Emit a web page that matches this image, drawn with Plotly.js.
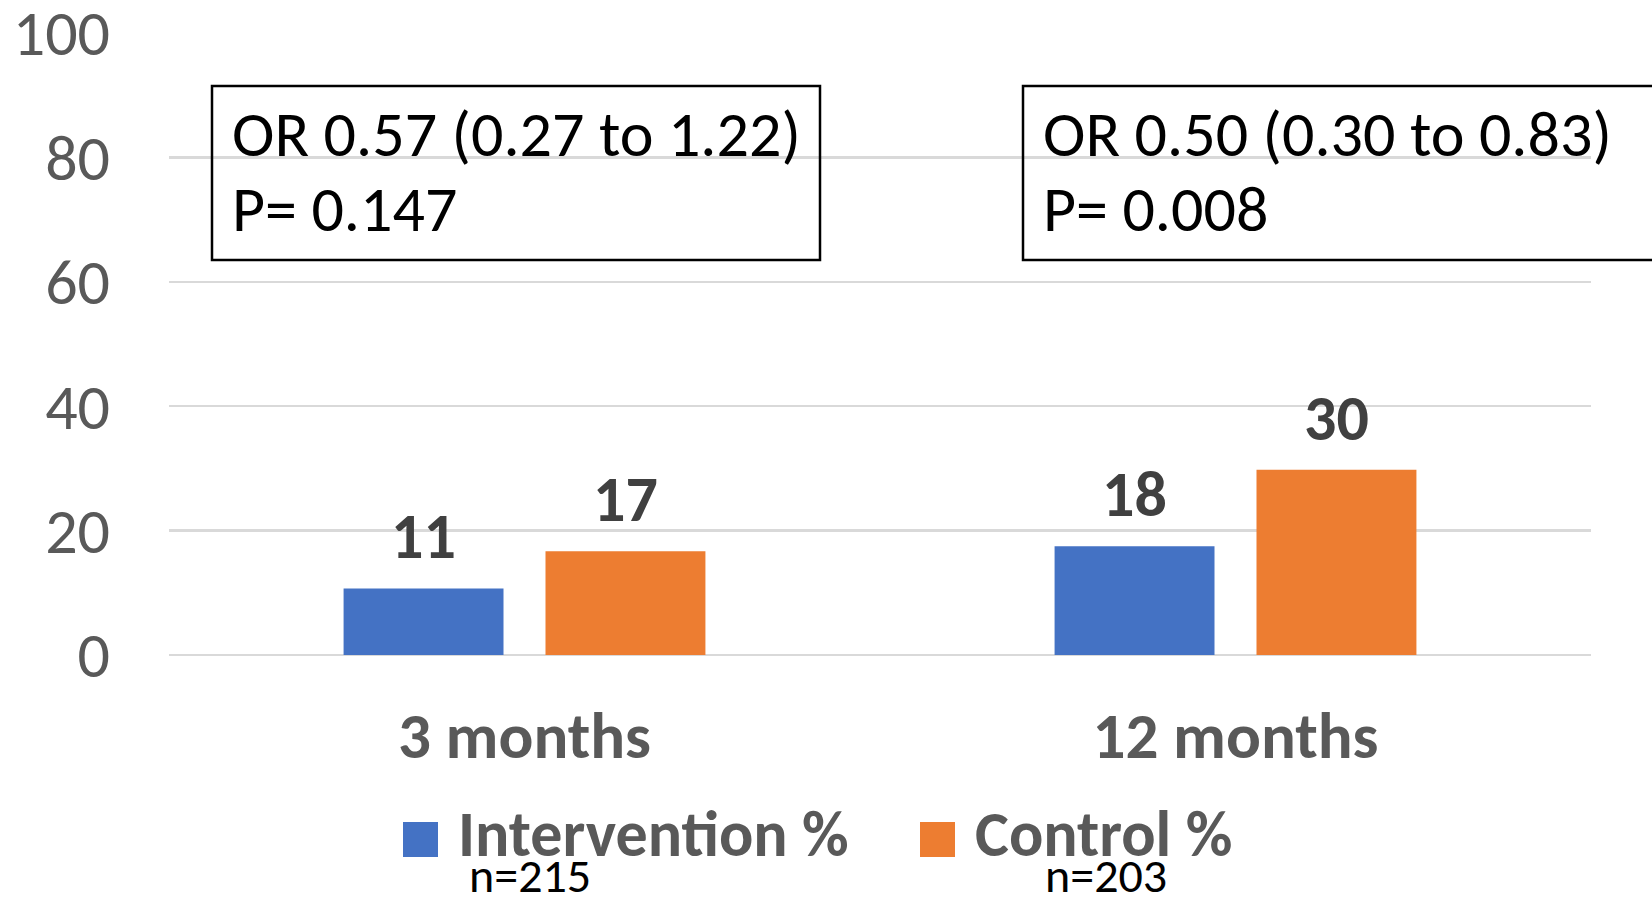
<!DOCTYPE html>
<html>
<head>
<meta charset="utf-8">
<script src="https://cdn.plot.ly/plotly-3.0.1.min.js"></script>
<style>
html,body{margin:0;padding:0;background:#fff;}
#chart{width:1652px;height:898px;}
</style>
</head>
<body>
<div id="chart"></div>
<script>
// ---- data ----
const categories = ["3 months", "12 months"];
const seriesNames = ["Intervention %", "Control %"];
const seriesN = ["n=215", "n=203"];
const interventionValues = [10.7, 17.5];
const controlValues = [16.7, 29.8];
const seriesColors = ["#4472C4", "#ED7D31"];
const oddsRatioText = ["OR 0.57 (0.27 to 1.22)", "OR 0.50 (0.30 to 0.83)"];
const pValueText = ["P= 0.147", "P= 0.008"];
const yTickValues = [0, 20, 40, 60, 80, 100];

// ---- layout geometry ----
const W = 1652, H = 898;
const M = {l: 169, r: 61, t: 33, b: 243};
const PW = W - M.l - M.r, PH = H - M.t - M.b;
const px = x => (x - M.l) / PW;          // pixel -> paper x
const py = y => (H - M.b - y) / PH;      // pixel -> paper y
const FONT = "Carlito, Calibri, Lato, 'Liberation Sans', sans-serif";

const traces = [
  {type: "bar", x: categories, y: interventionValues, name: seriesNames[0],
   marker: {color: seriesColors[0]}, hoverinfo: "none", showlegend: false},
  {type: "bar", x: categories, y: controlValues, name: seriesNames[1],
   marker: {color: seriesColors[1]}, hoverinfo: "none", showlegend: false}
];

const annotations = [];
const shapes = [];
// data labels
[interventionValues, controlValues].forEach((vals, s) => {
  vals.forEach((v, i) => {
    annotations.push({
      x: categories[i], y: v, xref: "x", yref: "y",
      xshift: s === 0 ? -101 : 101, yshift: 11,
      yanchor: "bottom", xanchor: "center", showarrow: false,
      text: String(Math.round(v)),
      font: {family: FONT, size: 64, color: "#404040", weight: "bold"}
    });
  });
});
// odds ratio boxes
const boxX = [[212, 820], [1023, 1700]];
oddsRatioText.forEach((t, i) => {
  shapes.push({type: "rect", xref: "paper", yref: "paper",
    x0: px(boxX[i][0]), x1: px(boxX[i][1]), y0: py(260), y1: py(86),
    line: {color: "#000000", width: 2.5}, fillcolor: "rgba(0,0,0,0)", layer: "above"});
  annotations.push({
    xref: "paper", yref: "paper", x: px(boxX[i][0] + 18), y: py(134),
    xanchor: "left", yanchor: "middle", align: "left", showarrow: false,
    text: t, font: {family: FONT, size: 64, color: "#000000"}
  });
  annotations.push({
    xref: "paper", yref: "paper", x: px(boxX[i][0] + 18), y: py(209),
    xanchor: "left", yanchor: "middle", align: "left", showarrow: false,
    text: pValueText[i], font: {family: FONT, size: 64, color: "#000000"}
  });
});
// legend (manual, large squares)
const legendSquareX = [403, 920];
const legendTextX = [456, 973];
const legendNX = [467, 1043];
seriesNames.forEach((nm, i) => {
  shapes.push({type: "rect", xref: "paper", yref: "paper",
    x0: px(legendSquareX[i]), x1: px(legendSquareX[i] + 35), y0: py(857), y1: py(822),
    line: {width: 0}, fillcolor: seriesColors[i]});
  annotations.push({xref: "paper", yref: "paper", x: px(legendTextX[i]), y: py(834),
    xanchor: "left", yanchor: "middle", showarrow: false, text: nm,
    font: {family: FONT, size: 64, color: "#595959", weight: "bold"}});
  annotations.push({xref: "paper", yref: "paper", x: px(legendNX[i]), y: py(876),
    xanchor: "left", yanchor: "middle", showarrow: false, text: seriesN[i],
    font: {family: FONT, size: 48, color: "#000000"}});
});

const layout = {
  width: W, height: H,
  margin: M,
  paper_bgcolor: "#ffffff", plot_bgcolor: "#ffffff",
  barmode: "group", bargap: 0.432, bargroupgap: 0.208,
  showlegend: false,
  font: {family: FONT},
  xaxis: {
    type: "category", showgrid: false, showline: false, zeroline: false,
    ticks: "", ticklabelstandoff: 37,
    tickfont: {family: FONT, size: 65, color: "#595959", weight: "bold"}
  },
  yaxis: {
    range: [0, 100], tickvals: yTickValues, ticks: "",
    showgrid: true, gridcolor: "#D9D9D9", gridwidth: 2.5,
    zeroline: true, zerolinecolor: "#D9D9D9", zerolinewidth: 2.5,
    showline: false, ticklabelstandoff: 58, ticklabeloverflow: "allow",
    tickfont: {family: FONT, size: 64, color: "#595959"}
  },
  annotations: annotations,
  shapes: shapes
};

Plotly.newPlot("chart", traces, layout, {displayModeBar: false, staticPlot: true});
</script>
</body>
</html>
